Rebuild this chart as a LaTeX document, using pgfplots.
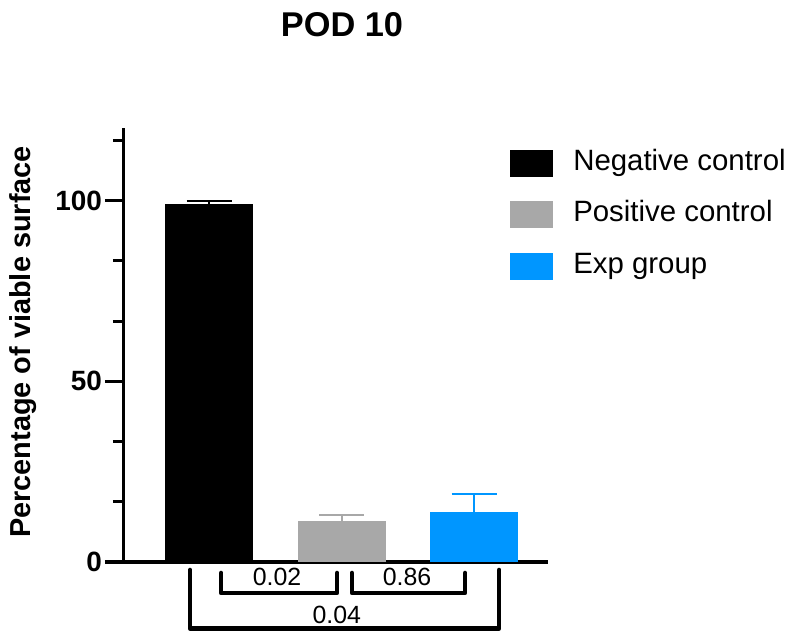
\documentclass[border=0pt]{standalone}
\usepackage{pgfplots}
\pgfplotsset{compat=1.18}
\usepackage{fontspec}
\setmainfont{Liberation Sans}
\definecolor{negc}{RGB}{0,0,0}
\definecolor{posc}{RGB}{168,168,168}
\definecolor{expc}{RGB}{0,150,255}
\begin{document}
\begin{tikzpicture}
\useasboundingbox (0,0) rectangle (788bp,635bp);
\begin{axis}[
  at={(123bp,73bp)}, anchor=south west,
  scale only axis, width=425bp, height=433.6bp,
  xmin=-0.649, xmax=2.558, ymin=0, ymax=120,
  axis lines=left, axis line style={-, line width=3bp},
  xtick=\empty,
  ytick={0,50,100}, minor ytick={16.667,33.333,66.667,83.333,116.667},
  tick align=outside, major tick length=18bp, minor tick length=10bp,
  every tick/.style={black, line width=3bp},
  /pgf/number format/assume math mode=true,
  yticklabel style={font=\bfseries\fontsize{28}{33}\selectfont, inner sep=0pt, anchor=east, xshift=-3bp},
  ybar, bar width=0.664, bar shift=0pt,
  clip=false,
  legend style={at={(axis cs:2.272,114.2)}, anchor=north west, draw=none, fill=none,
    font=\fontsize{29.5}{34}\selectfont, inner sep=0pt, row sep=24.5bp,
    nodes={inner sep=0pt, text height=20bp, text depth=6bp},
    /tikz/every odd column/.append style={column sep=20bp}},
  legend cell align=left,
  legend image code/.code={\fill[#1,draw=none] (0bp,-13.5bp) rectangle (43bp,13.5bp);},
  error bars/y dir=plus, error bars/y explicit,
]
\addplot[fill=negc, draw=none, error bars/error bar style={line width=2bp, black},
  error bars/error mark options={black, line width=2bp, mark size=22.5bp, rotate=90}]
  coordinates {(0,99) +- (0,1)};
\addlegendentry{Negative control}
\addplot[fill=posc, draw=none, error bars/error bar style={line width=2bp, posc},
  error bars/error mark options={posc, line width=2bp, mark size=22.5bp, rotate=90}]
  coordinates {(1,11.4) +- (0,1.6)};
\addlegendentry{Positive control}
\addplot[fill=expc, draw=none, error bars/error bar style={line width=2bp, expc},
  error bars/error mark options={expc, line width=2bp, mark size=22.5bp, rotate=90}]
  coordinates {(2,13.8) +- (0,5.0)};
\addlegendentry{Exp group}
% significance brackets
\draw[line width=4.5bp, line cap=round, line join=round]
  (axis cs:0.091,-3.04) -- (axis cs:0.091,-8.58) -- (axis cs:0.966,-8.58) -- (axis cs:0.966,-3.04);
\draw[line width=4.5bp, line cap=round, line join=round]
  (axis cs:1.079,-3.04) -- (axis cs:1.079,-8.58) -- (axis cs:1.932,-8.58) -- (axis cs:1.932,-3.04);
\draw[line width=4.5bp, line cap=round, line join=round]
  (axis cs:-0.143,-2.2) -- (axis cs:-0.143,-18.4) -- (axis cs:2.189,-18.4) -- (axis cs:2.189,-2.2);
\node[font=\fontsize{25}{29}\selectfont] at (axis cs:0.513,-4.07) {0.02};
\node[font=\fontsize{25}{29}\selectfont] at (axis cs:1.494,-4.07) {0.86};
\node[font=\fontsize{25}{29}\selectfont] at (axis cs:0.964,-14.7) {0.04};
\end{axis}
\node[font=\bfseries\fontsize{34.5}{40}\selectfont] at (342bp,610.5bp) {POD 10};
\node[font=\bfseries\fontsize{29}{34}\selectfont, rotate=90] at (23bp,293bp) {Percentage of viable surface};
\end{tikzpicture}
\end{document}
